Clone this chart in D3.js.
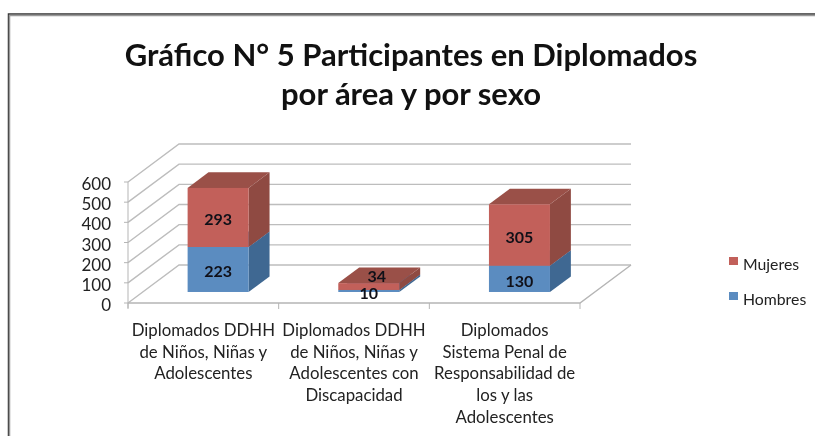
<!DOCTYPE html>
<html>
<head>
<meta charset="utf-8">
<script src="https://cdn.jsdelivr.net/npm/d3@7"></script>
<style>
  body { margin: 0; background: #fff; }
  svg { display: block; filter: blur(0.35px); }
  text { font-family: Lato, "Open Sans", sans-serif; fill: #222; }
</style>
</head>
<body>
<div id="chart"></div>
<script>
var categories = [
    ["Diplomados DDHH", "de Niños, Niñas y", "Adolescentes"],
    ["Diplomados DDHH", "de Niños, Niñas y", "Adolescentes con", "Discapacidad"],
    ["Diplomados", "Sistema Penal de", "Responsabilidad de", "los y las", "Adolescentes"]
];
var hombres = [223, 10, 130];
var mujeres = [293, 34, 305];
var yTicks = [0, 100, 200, 300, 400, 500, 600];
var titleLines = ["Gráfico N° 5 Participantes en Diplomados", "por área y por sexo"];

var w = 815;
var h = 436;

var svg = d3.select("#chart")
    .append("svg")
    .attr("width", w)
    .attr("height", h);

// frame of the screenshot
svg.append("path").attr("d", "M8.5,436V14H815").attr("fill", "none").attr("stroke", "#333").attr("stroke-width", 1.5);
svg.append("path").attr("d", "M9.5,436V15.5H815").attr("fill", "none").attr("stroke", "#999").attr("stroke-width", 1.5);

svg.selectAll("text.title")
    .data(titleLines)
    .enter()
    .append("text")
    .attr("class", "title")
    .attr("x", 411)
    .attr("y", function(d, i){ return 66 + i * 39; })
    .attr("text-anchor", "middle")
    .style("font-size", "31px")
    .style("font-weight", "bold")
    .style("fill", "#111")
    .text(function(d){ return d; });

var x = d3.scaleBand()
    .domain([0, 1, 2])
    .range([128, 580])
    .paddingInner(0.595)
    .paddingOuter(0.2975);

var y = d3.scaleLinear()
    .domain([0, 600])
    .range([303, 182]);

// depth of the 3D box, 0 = front of floor, 1 = back wall
var depthX = 51;
var depthY = -38;
var barFront = 0.29;
var barBack = 0.70;

function px(xv, depth){ return xv + depth * depthX; }
function py(v, depth){ return y(v) + depth * depthY; }

function poly(points){
    return points.map(function(p){ return p[0] + "," + p[1]; }).join(" ");
}

var grid = svg.append("g");

grid.selectAll("polyline.wall")
    .data(yTicks)
    .enter()
    .append("polyline")
    .attr("class", "wall")
    .attr("points", function(d){
        return poly([
            [x.range()[0], py(d, 0)],
            [px(x.range()[0], 1), py(d, 1)],
            [px(x.range()[1], 1), py(d, 1)]
        ]);
    })
    .attr("fill", "none")
    .attr("stroke", "#bdbdbd")
    .attr("stroke-width", 1.4);

// floor edges
grid.append("polyline")
    .attr("points", poly([
        [x.range()[0], py(0, 0)],
        [x.range()[1], py(0, 0)],
        [px(x.range()[1], 1), py(0, 1)]
    ]))
    .attr("fill", "none")
    .attr("stroke", "#b5b5b5")
    .attr("stroke-width", 1.4);

// front value axis
grid.append("line")
    .attr("x1", x.range()[0]).attr("x2", x.range()[0])
    .attr("y1", y(0) + 5).attr("y2", y(600))
    .attr("stroke", "#b5b5b5");

grid.selectAll("line.tickY")
    .data(yTicks)
    .enter()
    .append("line")
    .attr("class", "tickY")
    .attr("x1", x.range()[0] - 4)
    .attr("x2", x.range()[0])
    .attr("y1", function(d){ return y(d); })
    .attr("y2", function(d){ return y(d); })
    .attr("stroke", "#b5b5b5");

grid.selectAll("line.tickX")
    .data([0, 1, 2, 3])
    .enter()
    .append("line")
    .attr("class", "tickX")
    .attr("x1", function(d){ return x.range()[0] + d * x.step(); })
    .attr("x2", function(d){ return x.range()[0] + d * x.step(); })
    .attr("y1", y(0))
    .attr("y2", y(0) + 6)
    .attr("stroke", "#b5b5b5");

svg.selectAll("text.yLabel")
    .data(yTicks)
    .enter()
    .append("text")
    .attr("class", "yLabel")
    .attr("x", 111)
    .attr("y", function(d){ return y(d) + 8; })
    .attr("text-anchor", "end")
    .style("font-size", "17px")
    .text(function(d){ return d; });

var segments = [
    { values: hombres, base: function(i){ return 0; }, front: "#5b8cc0", side: "#3f6892", top: "#4a78a8" },
    { values: mujeres, base: function(i){ return hombres[i]; }, front: "#c2605a", side: "#8f4a42", top: "#9a5048" }
];

segments.forEach(function(s){
    var g = svg.append("g");
    s.values.forEach(function(v, i){
        var x0 = x(i), x1 = x(i) + x.bandwidth();
        var lo = s.base(i), hi = lo + v;
        g.append("polygon")
            .attr("points", poly([
                [px(x1, barFront), py(lo, barFront)],
                [px(x1, barBack), py(lo, barBack)],
                [px(x1, barBack), py(hi, barBack)],
                [px(x1, barFront), py(hi, barFront)]
            ]))
            .attr("fill", s.side);
        g.append("polygon")
            .attr("points", poly([
                [px(x0, barFront), py(hi, barFront)],
                [px(x1, barFront), py(hi, barFront)],
                [px(x1, barBack), py(hi, barBack)],
                [px(x0, barBack), py(hi, barBack)]
            ]))
            .attr("fill", s.top);
        g.append("rect")
            .attr("x", px(x0, barFront))
            .attr("y", py(hi, barFront))
            .attr("width", x.bandwidth())
            .attr("height", py(lo, barFront) - py(hi, barFront))
            .attr("fill", s.front);
    });
});

// value labels sit in the middle of each segment, the 34 is pushed onto the top face
function valueLabel(v, i, lo, nudgeX, nudgeY){
    svg.append("text")
        .attr("x", px(x(i) + x.bandwidth() / 2, barFront) + nudgeX)
        .attr("y", py(lo + v / 2, barFront) + 8 + nudgeY)
        .attr("text-anchor", "middle")
        .style("font-size", "16px")
        .style("font-weight", "bold")
        .style("fill", "#101018")
        .text(v);
}

hombres.forEach(function(v, i){ valueLabel(v, i, 0, 0, 0); });
mujeres.forEach(function(v, i){ valueLabel(v, i, hombres[i], i == 1 ? 8 : 0, i == 1 ? -12.5 : 0); });

categories.forEach(function(lines, i){
    svg.append("text")
        .attr("text-anchor", "middle")
        .style("font-size", "16.8px")
        .selectAll("tspan")
        .data(lines)
        .enter()
        .append("tspan")
        .attr("x", x(i) + x.bandwidth() / 2)
        .attr("y", function(d, j){ return 336 + j * 21.7; })
        .text(function(d){ return d; });
});

var legend = svg.selectAll("g.legend")
    .data([["Mujeres", "#c2605a"], ["Hombres", "#5b8cc0"]])
    .enter()
    .append("g")
    .attr("class", "legend")
    .attr("transform", function(d, i){ return "translate(729," + (257 + i * 35) + ")"; });

legend.append("rect")
    .attr("width", 9)
    .attr("height", 8)
    .attr("fill", function(d){ return d[1]; });

legend.append("text")
    .attr("x", 14)
    .attr("y", 13)
    .style("font-size", "15.8px")
    .text(function(d){ return d[0]; });
</script>
</body>
</html>
